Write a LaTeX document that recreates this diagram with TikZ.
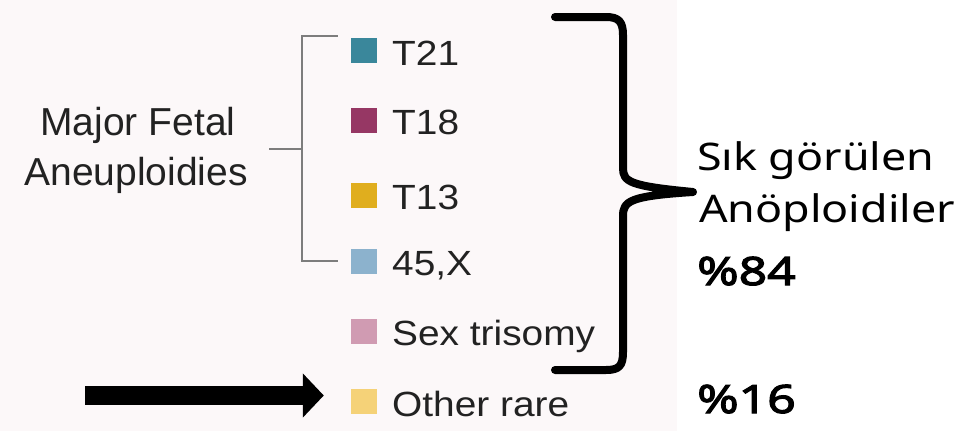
\documentclass[tikz,border=0pt]{standalone}
\usepackage{fontspec}
\setmainfont{Liberation Sans}
\newfontfamily\lgdfont[FakeStretch=1.11]{Liberation Sans}
\newfontfamily\handfont[FakeStretch=1.18]{Noto Sans}
\newfontfamily\handboldfont[FakeStretch=1.28, FakeBold=3]{Noto Sans}
\usetikzlibrary{arrows.meta}
\definecolor{bgpink}{RGB}{252,248,249}
\definecolor{txtgray}{RGB}{34,34,34}
\definecolor{brgray}{RGB}{125,125,125}
\definecolor{cTa}{RGB}{58,135,155}
\definecolor{cTb}{RGB}{150,55,100}
\definecolor{cTc}{RGB}{224,174,30}
\definecolor{cX}{RGB}{140,178,205}
\definecolor{cSex}{RGB}{208,155,178}
\definecolor{cOth}{RGB}{245,210,120}
\tikzset{
  sq/.style={rectangle, minimum width=26pt, minimum height=25pt, inner sep=0pt},
  lgd/.style={anchor=base west, inner sep=0pt, text=txtgray, font=\lgdfont\fontsize{35}{40}\selectfont},
  mft/.style={anchor=base, inner sep=0pt, text=txtgray, font=\fontsize{39}{46}\selectfont},
  hand/.style={anchor=base west, inner sep=0pt, text=black, font=\handfont\fontsize{38}{46}\selectfont},
  handb/.style={hand, font=\handboldfont\fontsize{39}{46}\selectfont},
  brk/.style={draw=brgray, line width=2pt},
  brace/.style={draw=black, line width=8pt, line cap=round, line join=round},
}
\begin{document}
\begin{tikzpicture}[x=1pt,y=-1pt]
\useasboundingbox (0,0) rectangle (972,431);
\fill[bgpink] (0,0) rectangle (677,431);
\fill[white] (677,0) rectangle (972,431);

% legend squares
\node[sq, fill=cTa]  (sqa) at (364,50.5) {};
\node[sq, fill=cTb]  (sqb) at (364,120) {};
\node[sq, fill=cTc]  (sqc) at (364,195) {};
\node[sq, fill=cX]   (sqx) at (364,261) {};
\node[sq, fill=cSex] (sqs) at (364,331.5) {};
\node[sq, fill=cOth] (sqo) at (364,401.5) {};

% legend labels
\node[lgd] (la) at (392,65) {T21};
\node[lgd] (lb) at (392,134) {T18};
\node[lgd] (lc) at (392,209) {T13};
\node[lgd] (lx) at (392,275) {45,X};
\node[lgd] (ls) at (392,345) {Sex trisomy};
\node[lgd] (lo) at (392,416) {Other rare};

% group title
\node[mft] (mf1) at (138,135) {Major Fetal};
\node[mft] (mf2) at (136,185) {Aneuploidies};

% gray bracket
\coordinate (bTop) at (302,36);
\coordinate (bBot) at (302,261);
\coordinate (bMid) at (302,149);
\coordinate (stubL) at (269,149);
\draw[brk] ([xshift=-13pt]sqa.west |- bTop) -- (bTop) -- (bBot) -- ([xshift=-13pt]sqx.west |- bBot);
\draw[brk] (stubL) -- (bMid);

% black brace
\coordinate (brTopL) at (555,17);
\coordinate (brBotL) at (555,370);
\coordinate (brTip) at (693,192);
\draw[brace] (brTopL) -- (606,17) .. controls (619,17) and (623,22) .. (623,35)
  -- (623,168) .. controls (623,182) and (630,186) .. (brTip)
  .. controls (630,196) and (623,201) .. (623,216)
  -- (623,352) .. controls (623,366) and (619,370) .. (606,370) -- (brBotL);

% right texts
\node[hand] (t1) at (697,170) {Sık görülen};
\node[hand] (t2) at (699,222) {Anöploidiler};
\node[handb] (t3) at (697,285) {\%84};
\node[handb] (t4) at (697,413) {\%16};

% black arrow
\coordinate (atail) at (85,395.5);
\draw[line width=19pt, -{Triangle[width=43pt,length=21pt]}, shorten >=27pt] (atail) -- (sqo.west |- atail);
\end{tikzpicture}
\end{document}
